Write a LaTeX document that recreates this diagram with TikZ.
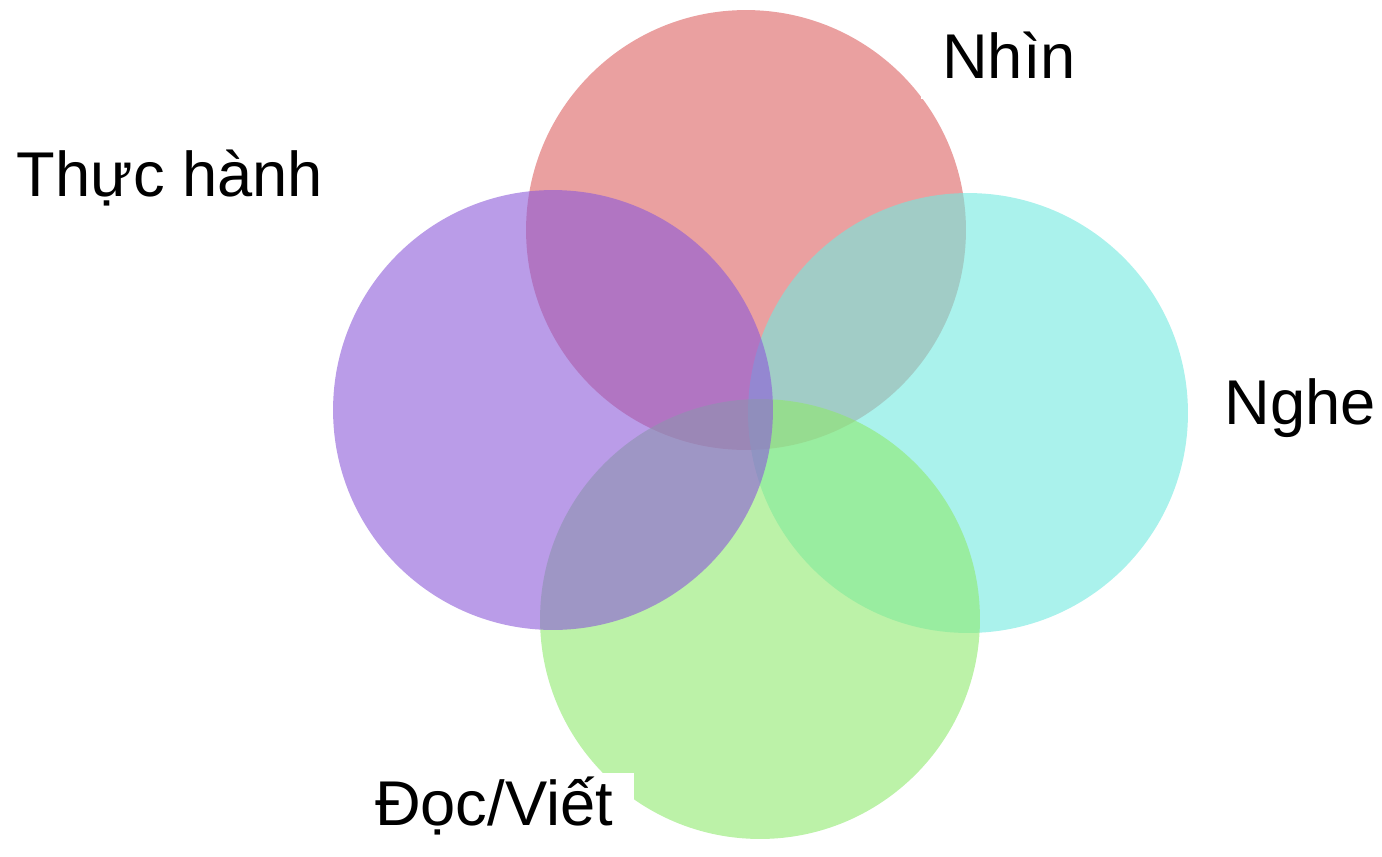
\documentclass[tikz,border=0pt]{standalone}
\usepackage{fontspec}
\setmainfont{Liberation Sans}
\definecolor{nhinred}{RGB}{220,97,97}
\definecolor{nghecyan}{RGB}{113,233,223}
\definecolor{docgreen}{RGB}{143,233,110}
\definecolor{thucpurple}{RGB}{140,90,217}
\begin{document}
\begin{tikzpicture}[x=0.02cm,y=-0.02cm,
	set/.style={circle,minimum size=8.8cm,inner sep=0pt,fill opacity=0.6,draw=none},
	lbl/.style={fill=white,inner sep=0.42cm,anchor=base,font=\fontsize{36}{40}\selectfont}]

			\useasboundingbox (0,0) rectangle (1382,856);

			%circles
			\node [set,fill=nhinred] (c1) at (746,230) {};
			\node [set,fill=nghecyan] (c2) at (968,413) {};
			\node [set,fill=docgreen] (c3) at (760,619) {};
			\node [set,fill=thucpurple] (c4) at (553,410) {};

			%labels
			\node [lbl] (l1) at (1009,78) {Nhìn};
			\node [lbl] (l2) at (1300,424) {Nghe};
			\node [lbl,inner ysep=0.06cm] (l3) at (494,825) {Đọc/Viết};
			\node [lbl] (l4) at (170,196) {Thực hành};
		\end{tikzpicture}
\end{document}
